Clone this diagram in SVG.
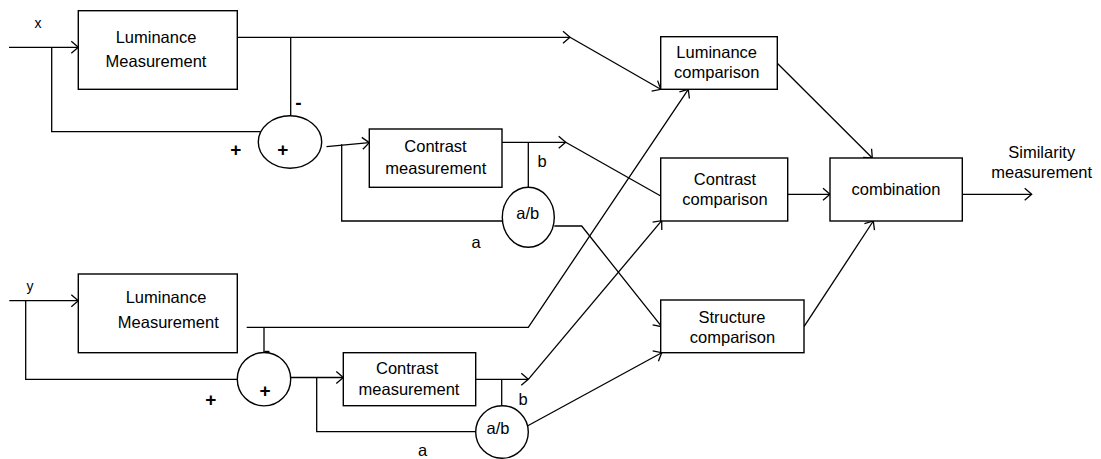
<svg xmlns="http://www.w3.org/2000/svg" width="1101" height="459" viewBox="0 0 1101 459">
<style>
.box{fill:#fff;stroke:#000;stroke-width:1.4}
.ln{fill:none;stroke:#000;stroke-width:1.3}
.t{font-family:"Liberation Sans",Arial,sans-serif;font-size:16.5px;fill:#000;text-anchor:middle}
.s{font-family:"Liberation Sans",Arial,sans-serif;font-size:14px;fill:#000;text-anchor:middle}
.p{font-family:"Liberation Sans",Arial,sans-serif;font-size:19px;font-weight:bold;fill:#000;text-anchor:middle}
</style>
<defs>
<marker id="arr" markerWidth="10" markerHeight="14" refX="9" refY="7" orient="auto" markerUnits="userSpaceOnUse" viewBox="0 0 10 14">
<path d="M2,1 L9,7 L2,13" fill="none" stroke="#000" stroke-width="1.3"/>
</marker>
</defs>
<rect width="1101" height="459" fill="#fff"/>
<g id="connectors">
<!-- x input -->
<path class="ln" d="M9,47.3 H78.3" marker-end="url(#arr)"/>
<path class="ln" d="M51.7,47.3 V131.7 H260.5"/>
<!-- top luminance output -->
<path class="ln" d="M237.3,37.3 H570" marker-end="url(#arr)"/>
<path class="ln" d="M570,37.3 L660.7,89.3" marker-end="url(#arr)"/>
<path class="ln" d="M290.7,37.3 V116"/>
<!-- top sum output -->
<path class="ln" d="M326.5,146.7 L369.3,142.7" marker-end="url(#arr)"/>
<path class="ln" d="M341.7,144.2 V221 H502.3"/>
<!-- top contrast output -->
<path class="ln" d="M502,142.3 H565.7" marker-end="url(#arr)"/>
<path class="ln" d="M565.7,142.3 L660.7,196"/>
<path class="ln" d="M528.3,142.3 V187.3"/>
<!-- top a/b output -->
<path class="ln" d="M554.3,226 H581.7 L661.7,326.7" marker-end="url(#arr)"/>
<!-- y input -->
<path class="ln" d="M9.3,300.7 H78.3" marker-end="url(#arr)"/>
<path class="ln" d="M25.7,300.7 V379.3 H237.3"/>
<!-- bottom luminance output -->
<path class="ln" d="M246.7,327.3 H528.3 L688.3,89.3" marker-end="url(#arr)"/>
<path class="ln" d="M264,327.3 V352.7"/>
<!-- bottom sum output -->
<path class="ln" d="M290.7,377.5 H343.3" marker-end="url(#arr)"/>
<path class="ln" d="M316.7,377.5 V431.7 H475.7"/>
<!-- bottom contrast output -->
<path class="ln" d="M475.7,379.3 H528.3" marker-end="url(#arr)"/>
<path class="ln" d="M528.3,379.3 L661.7,220.7" marker-end="url(#arr)"/>
<path class="ln" d="M501.7,379.3 V405.7"/>
<!-- bottom a/b output -->
<path class="ln" d="M520,430 L661.7,352.7" marker-end="url(#arr)"/>
<!-- comparisons to combination -->
<path class="ln" d="M777.3,63.3 L872.3,158" marker-end="url(#arr)"/>
<path class="ln" d="M787.7,194.3 H830" marker-end="url(#arr)"/>
<path class="ln" d="M804,326.7 L873.3,221" marker-end="url(#arr)"/>
<path class="ln" d="M962.3,194.3 H1031.7" marker-end="url(#arr)"/>
</g>
<g id="lum_x">
<rect class="box" x="78.3" y="10.7" width="159" height="78.6"/>
<text class="t" x="156" y="42.5">Luminance</text>
<text class="t" x="156" y="66.5">Measurement</text>
</g>
<g id="label_x"><text class="s" x="38" y="28">x</text></g>
<g id="sum_x">
<ellipse class="box" cx="290" cy="142" rx="31.7" ry="26.2"/>
<text class="p" x="282.7" y="156">+</text>
</g>
<g id="signs_x">
<text class="p" x="298.3" y="109">-</text>
<text class="p" x="235.7" y="156">+</text>
</g>
<g id="contrast_x">
<rect class="box" x="369.3" y="129" width="132.7" height="58.3"/>
<text class="t" x="435.5" y="152.3">Contrast</text>
<text class="t" x="435.8" y="174">measurement</text>
</g>
<g id="div_x">
<ellipse class="box" cx="528.3" cy="217.3" rx="26" ry="30"/>
<text class="t" x="527.7" y="219">a/b</text>
<text class="t" x="542" y="167">b</text>
<text class="t" x="476" y="248">a</text>
</g>
<g id="lum_y">
<rect class="box" x="78.3" y="274" width="159" height="78.7"/>
<text class="t" x="166" y="303.3">Luminance</text>
<text class="t" x="168.3" y="328.3">Measurement</text>
</g>
<g id="label_y"><text class="s" x="30" y="291">y</text></g>
<g id="sum_y">
<circle class="box" cx="264" cy="379.2" r="26.7"/>
<text class="p" x="265" y="397.3">+</text>
</g>
<g id="signs_y">
<text class="p" x="267" y="357">-</text>
<text class="p" x="210.7" y="405.6">+</text>
</g>
<g id="contrast_y">
<rect class="box" x="343.3" y="352.7" width="132.4" height="53"/>
<text class="t" x="407.2" y="374">Contrast</text>
<text class="t" x="409" y="395">measurement</text>
</g>
<g id="div_y">
<circle class="box" cx="502" cy="432" r="26.3"/>
<text class="t" x="498" y="433.5">a/b</text>
<text class="t" x="523" y="405">b</text>
<text class="t" x="422.7" y="456">a</text>
</g>
<g id="lum_comp">
<rect class="box" x="660.7" y="36.7" width="116.6" height="52.6"/>
<text class="t" x="716.7" y="57.5">Luminance</text>
<text class="t" x="716.7" y="77.5">comparison</text>
</g>
<g id="contrast_comp">
<rect class="box" x="660.7" y="158" width="127" height="63"/>
<text class="t" x="725" y="184.5">Contrast</text>
<text class="t" x="725" y="205">comparison</text>
</g>
<g id="structure_comp">
<rect class="box" x="660.7" y="300" width="143.3" height="52.7"/>
<text class="t" x="732" y="322.5">Structure</text>
<text class="t" x="732.5" y="342.5">comparison</text>
</g>
<g id="combination">
<rect class="box" x="830" y="158" width="132.3" height="63"/>
<text class="t" x="896" y="195">combination</text>
</g>
<g id="output">
<text class="t" x="1041.7" y="158">Similarity</text>
<text class="t" x="1041.7" y="178">measurement</text>
</g>
</svg>
